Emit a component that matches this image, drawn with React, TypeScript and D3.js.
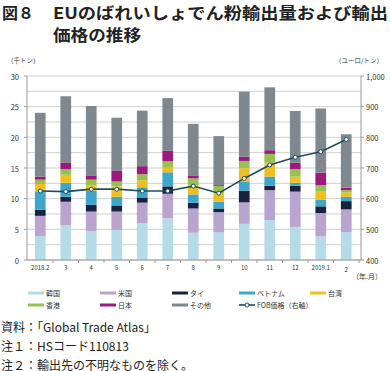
import React from "react";
import * as d3 from "d3";

const months = ["2018.2", "3", "4", "5", "6", "7", "8", "9", "10", "11", "12", "2019.1", "2"];
const korea = [3.9, 5.7, 4.7, 4.9, 6.0, 6.8, 4.45, 4.5, 5.9, 6.5, 5.4, 3.85, 4.55];
const usa = [3.3, 3.8, 3.2, 3.0, 3.35, 4.0, 3.95, 3.3, 3.5, 4.9, 5.75, 3.8, 3.7];
const thai = [1.0, 0.8, 1.1, 1.0, 0.85, 1.2, 0.95, 0.6, 1.9, 0.7, 0.95, 1.1, 1.35];
const vietnam = [3.0, 2.3, 2.3, 1.4, 1.65, 2.3, 1.35, 1.1, 1.5, 1.5, 0.5, 1.05, 0.7];
const taiwan = [1.2, 1.3, 0.9, 1.7, 1.15, 0.75, 1.5, 1.4, 2.15, 2.3, 1.0, 1.35, 0.7];
const hongkong = [0.7, 0.9, 0.9, 0.8, 1.0, 1.05, 1.1, 1.15, 1.2, 1.4, 1.2, 1.05, 0.4];
const japan = [0.5, 1.1, 0.7, 1.8, 1.3, 1.7, 0.4, 0.15, 0.7, 0.6, 1.05, 2.05, 0.4];
const others = [10.4, 10.8, 11.3, 8.6, 9.05, 8.6, 8.5, 8.0, 10.6, 10.25, 8.45, 10.45, 8.7];
const fob = [625, 623, 631, 631, 625, 625, 641, 618, 666, 710, 735, 753, 793];

const seriesNames = ["韓国", "米国", "タイ", "ベトナム", "台湾", "香港", "日本", "その他"];
const seriesData = [korea, usa, thai, vietnam, taiwan, hongkong, japan, others];
const colors = ["#b5dbe8", "#b9a3cf", "#17223f", "#3ea5cb", "#f0bf1f", "#95c14e", "#9c1a7d", "#7f878f"];
const leftTicks = [0, 5, 10, 15, 20, 25, 30];
const rightTicks = [400, 500, 600, 700, 800, 900, 1000];
const gridVals = d3.range(0, 30.01, 2.5);

const FONT = "'Noto Sans CJK JP', 'Noto Sans', sans-serif";

export default function App() {
  const x0 = 27, x1 = 361;
  const yTop = 76, yBot = 260;
  const x = d3.scaleBand<string>().domain(months).range([27.5, 359]).paddingInner(0.58).paddingOuter(0.29);
  const y = d3.scaleLinear().domain([0, 30]).range([yBot, yTop]);
  const yR = d3.scaleLinear().domain([400, 1000]).range([yBot, yTop]);

  const rows = months.map((m, i) => {
    const o: any = { m };
    seriesNames.forEach((s, k) => (o[s] = seriesData[k][i]));
    return o;
  });
  const stacked = d3.stack<any>().keys(seriesNames)(rows);
  const line = d3
    .line<number>()
    .x((_, i) => (x(months[i]) as number) + x.bandwidth() / 2)
    .y((d) => yR(d));

  const step = x.step();
  const legendRow1 = [0, 1, 2, 3, 4];
  const legendRow2 = [5, 6, 7];
  const legendX = [28, 100, 172, 239, 310];

  return (
    <svg width={390} height={371} style={{ position: "absolute", left: 0, top: 0, fontFamily: FONT }}>
      <rect width={390} height={371} fill="#fff" />
      {/* title */}
      <text x={2} y={12} fontSize={16} fontWeight={700} dominantBaseline="central" fill="#222">図８</text>
      <text x={53} y={12} fontSize={16} fontWeight={700} dominantBaseline="central" fill="#222" textLength={335} lengthAdjust="spacingAndGlyphs">
        EUのばれいしょでん粉輸出量および輸出
      </text>
      <text x={53} y={34} fontSize={16} fontWeight={700} dominantBaseline="central" fill="#222" textLength={88} lengthAdjust="spacingAndGlyphs">価格の推移</text>

      <text x={7} y={60} fontSize={6.5} fill="#333" dominantBaseline="central">（千トン）</text>
      <text x={383} y={60} fontSize={6.5} fill="#333" dominantBaseline="central" textAnchor="end">（ユーロ/トン）</text>

      {/* grid */}
      {gridVals.map((g) => (
        <line key={g} x1={x0} x2={x1} y1={y(g)} y2={y(g)} stroke="#cfcfcf" strokeWidth={1} />
      ))}

      {/* bars */}
      {stacked.map((layer, k) =>
        layer.map((d, i) => (
          <rect
            key={k + "-" + i}
            x={x(months[i])}
            width={x.bandwidth()}
            y={y(d[1])}
            height={Math.max(0, y(d[0]) - y(d[1]))}
            fill={colors[k]}
          />
        ))
      )}

      {/* axes */}
      <line x1={x0} x2={x0} y1={yTop} y2={yBot} stroke="#999" />
      <line x1={x1} x2={x1} y1={yTop} y2={yBot} stroke="#999" />
      <line x1={x0} x2={x1} y1={yBot} y2={yBot} stroke="#999" />
      {leftTicks.map((t) => (
        <g key={t}>
          <line x1={x0 - 3} x2={x0} y1={y(t)} y2={y(t)} stroke="#999" />
          <text x={19} y={y(t)} fontSize={7.5} textAnchor="end" dominantBaseline="central" fill="#333">{t}</text>
        </g>
      ))}
      {rightTicks.map((t) => (
        <g key={t}>
          <line x1={x1} x2={x1 + 3} y1={yR(t)} y2={yR(t)} stroke="#999" />
          <text x={366} y={yR(t)} fontSize={7.5} dominantBaseline="central" fill="#333">{d3.format(",")(t)}</text>
        </g>
      ))}
      {months.map((m, i) => (
        <g key={m + i}>
          <line
            x1={(x(m) as number) + x.bandwidth() / 2 + step / 2}
            x2={(x(m) as number) + x.bandwidth() / 2 + step / 2}
            y1={yBot}
            y2={yBot + 3}
            stroke="#999"
          />
          <text
            x={(x(m) as number) + x.bandwidth() / 2}
            y={i === months.length - 1 ? 269 : 267}
            fontSize={6}
            textAnchor="middle"
            dominantBaseline="central"
            fill="#333"
          >
            {m}
          </text>
        </g>
      ))}
      <text x={382} y={276} fontSize={7} textAnchor="end" dominantBaseline="central" fill="#333">（年.月）</text>

      {/* FOB line */}
      <path d={line(fob) || ""} fill="none" stroke="#1f4d5c" strokeWidth={1.6} />
      {fob.map((v, i) => (
        <circle
          key={i}
          cx={(x(months[i]) as number) + x.bandwidth() / 2}
          cy={yR(v)}
          r={2}
          fill="#fff"
          stroke="#1f4d5c"
          strokeWidth={1}
        />
      ))}

      {/* legend */}
      {legendRow1.map((k, j) => (
        <g key={k}>
          <rect x={legendX[j]} y={291.5} width={16} height={3} fill={colors[k]} />
          <text x={legendX[j] + 18} y={293} fontSize={7} dominantBaseline="central" fill="#333">{seriesNames[k]}</text>
        </g>
      ))}
      {legendRow2.map((k, j) => (
        <g key={k}>
          <rect x={legendX[j]} y={303.5} width={16} height={3} fill={colors[k]} />
          <text x={legendX[j] + 18} y={305} fontSize={7} dominantBaseline="central" fill="#333">{seriesNames[k]}</text>
        </g>
      ))}
      <line x1={legendX[3]} x2={legendX[3] + 16} y1={305} y2={305} stroke="#1f4d5c" strokeWidth={1.6} />
      <circle cx={legendX[3] + 8} cy={305} r={2} fill="#fff" stroke="#1f4d5c" strokeWidth={1} />
      <text x={legendX[3] + 18} y={305} fontSize={7} dominantBaseline="central" fill="#333">FOB価格（右軸）</text>

      {/* notes */}
      <text x={1} y={326} fontSize={12} dominantBaseline="central" fill="#222">資料：「Global Trade Atlas」</text>
      <text x={1} y={345} fontSize={12} dominantBaseline="central" fill="#222">注１：HSコード110813</text>
      <text x={1} y={364} fontSize={12} dominantBaseline="central" fill="#222">注２：輸出先の不明なものを除く。</text>
    </svg>
  );
}
